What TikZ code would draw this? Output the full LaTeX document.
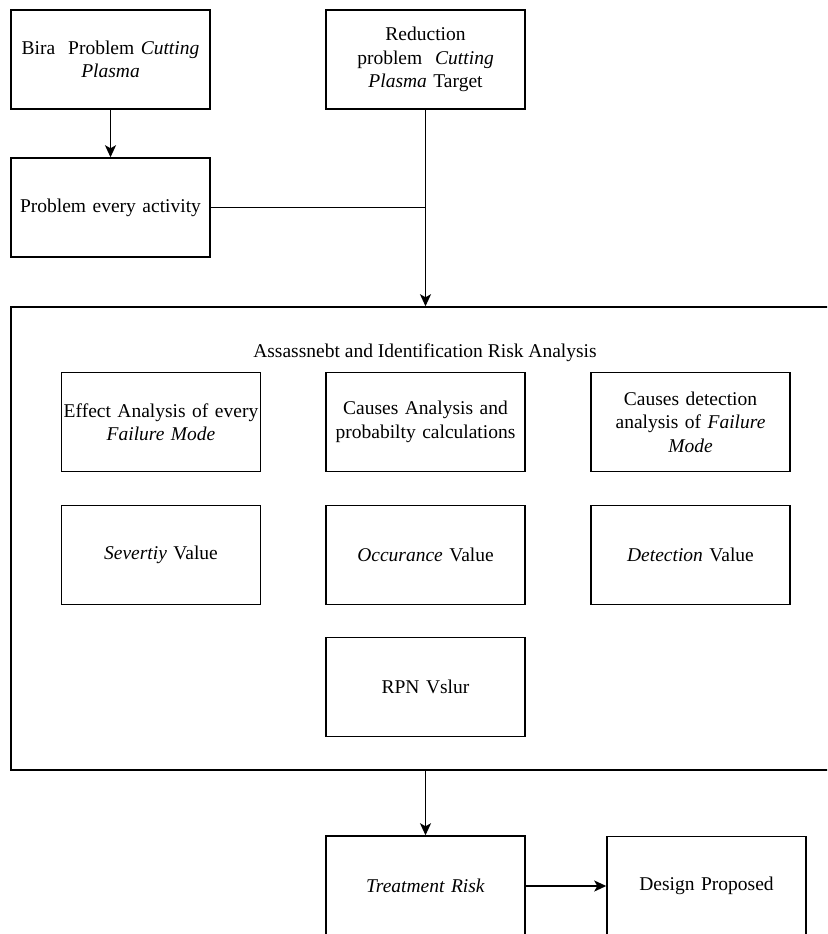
\documentclass[tikz,border=0pt]{standalone}
\usepackage{fontspec}
\setmainfont{Liberation Serif}
\usetikzlibrary{arrows.meta}
\begin{document}
\begin{tikzpicture}[x=1pt,y=-1pt,
  box/.style={draw, line width=1.5pt, minimum width=199pt, minimum height=99pt,
    text width=199pt, align=center, inner sep=0pt, font=\fontsize{19.5}{23.5}\selectfont},
  arr/.style={line width=1.5pt, -{Stealth[length=12pt,width=11pt,inset=3pt]}},
  ln/.style={line width=1.5pt}]
\useasboundingbox (0,0) rectangle (827,934);
\clip (0,0) rectangle (827,934);
\node[box] (bira) at (110.5,59.5) {Bira\ \ Problem \textit{Cutting}\\\textit{Plasma}};
\node[box] (red) at (425.5,59.5) {Reduction\\problem\ \ \textit{Cutting}\\\textit{Plasma} Target};
\node[box] (prob) at (110.5,207.5) {Problem every activity};
\node[draw, line width=1.5pt, minimum width=840pt, minimum height=463pt, inner sep=0pt] (big) at (431,538.5) {};
\node[font=\fontsize{19.5}{23.5}\selectfont] (title) at (425,353) {Assassnebt and Identification Risk Analysis};
\node[box] (eff) at (161,422) {Effect Analysis of every\\\textit{Failure Mode}};
\node[box] (cau) at (425.5,422) {Causes Analysis and\\probabilty calculations};
\node[box] (det) at (690.5,422) {Causes detection\\analysis of \textit{Failure}\\\textit{Mode}};
\node[box] (sev) at (161,555) {\textit{Severtiy} Value};
\node[box] (occ) at (425.5,555) {\textit{Occurance} Value};
\node[box] (dtv) at (690.5,555) {\textit{Detection} Value};
\node[box] (rpn) at (425.5,687) {RPN Vslur};
\node[box, minimum height=100pt] (treat) at (425.5,886) {\textit{Treatment Risk}};
\node[box] (des) at (706.5,886) {Design Proposed};
\draw[arr] (bira) -- (prob);
\coordinate (j) at (red.south |- prob.east);
\draw[ln] (prob.east) -- (j);
\draw[arr] (red.south) -- (red.south |- big.north);
\draw[arr] (treat.north |- big.south) -- (treat.north);
\draw[arr] (treat) -- (des);
\end{tikzpicture}
\end{document}
